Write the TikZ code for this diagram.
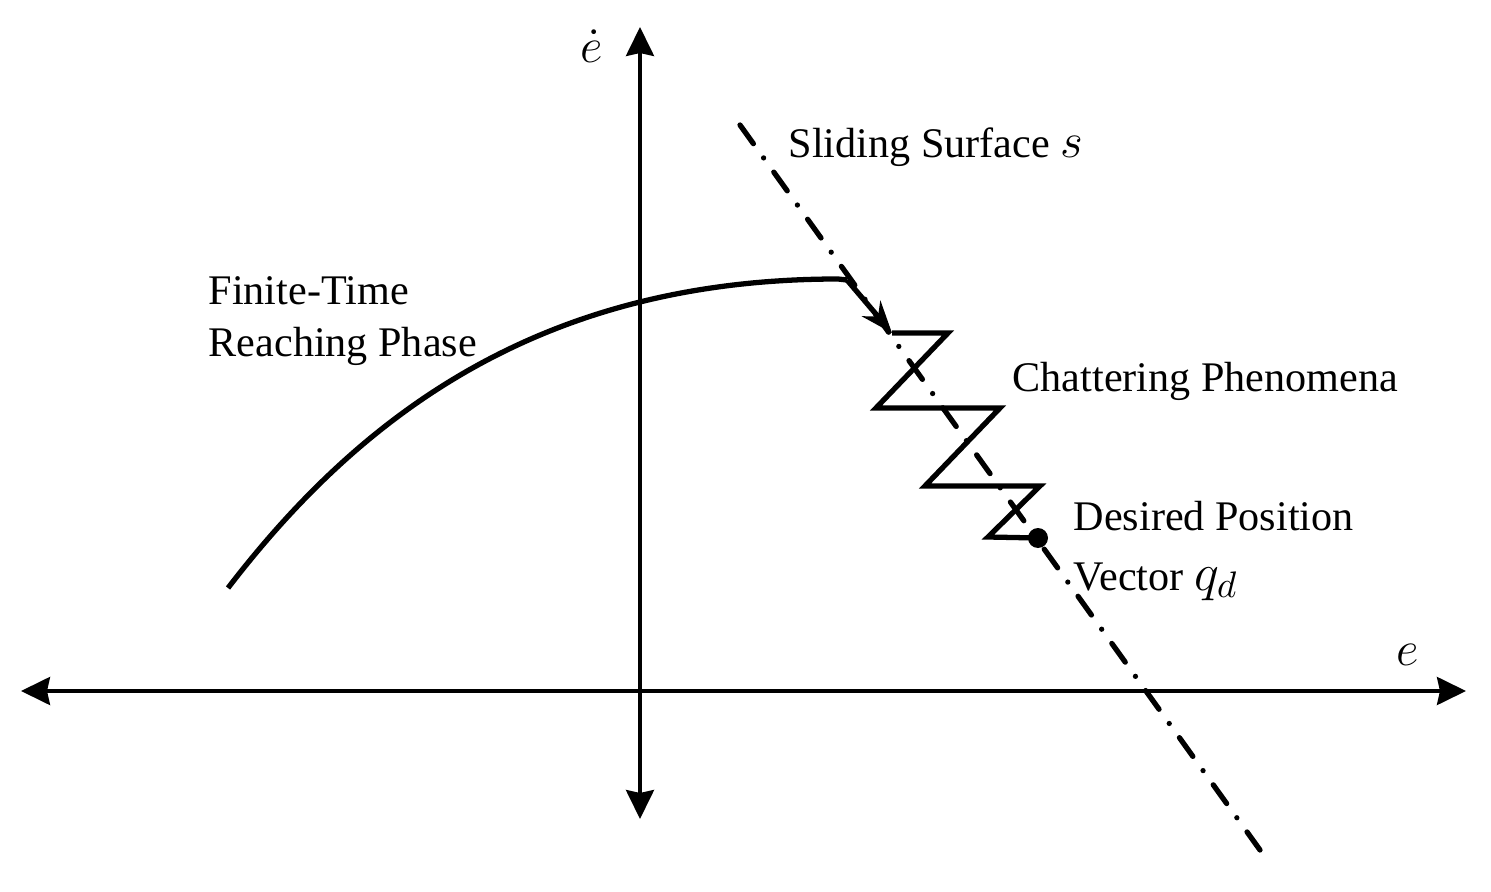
\documentclass[tikz,border=0pt]{standalone}
\usepackage{fix-cm}
\usepackage{fontspec}
\setmainfont{Liberation Serif}
\usetikzlibrary{arrows.meta,positioning,calc}

\begin{document}
\begin{tikzpicture}[>={Stealth[length=0.29cm,width=0.28cm,inset=0.03cm]},font=\fontsize{12}{14.8}\selectfont]
        \tikzstyle{axis}=[line width=1pt,<->]
        \tikzstyle{traj}=[line width=1.5pt,line join=miter]
        \tikzstyle{surface}=[line width=1.5pt,line cap=round,dash pattern=on 0.23cm off 0.175cm on 0cm off 0.175cm]
        \tikzstyle{txt}=[inner sep=0pt,anchor=west,align=left]
        \tikzstyle{mathtxt}=[inner sep=0pt,font=\fontsize{14}{16}\selectfont]
        \useasboundingbox (0,0) rectangle (14.91,8.91);
        \coordinate (xl) at (0.21,2.0);
        \coordinate (xr) at (14.66,2.0);
        \coordinate (yb) at (6.40,0.72);
        \coordinate (yt) at (6.40,8.64);
        \coordinate (s1) at (7.40,7.66);
        \coordinate (s2) at (12.60,0.41);
        \coordinate (start) at (2.28,3.03);
        \coordinate (top) at (8.47,6.11);
        \coordinate (z0) at (8.92,5.58);
        \draw[surface] (s1) -- (s2);
        \draw[axis] (xl) -- (xr);
        \draw[axis] (yb) -- (yt);
        \node[mathtxt] (edot) at (5.92,8.45) {$\dot{e}$};
        \node[mathtxt] (elab) at (14.08,2.36) {$e$};
        % reaching phase, then chattering about s
        \draw[traj] (start) .. controls (3.6,4.75) and (5.4,6.12) .. (8.38,6.12) -- (top);
        \draw[traj,-{Stealth[length=0.32cm,width=0.24cm]}] (top) -- (z0);
        \node[circle,fill,inner sep=0pt,minimum size=0.2cm] (qd) at (10.38,3.53) {};
        \draw[traj] (z0) -- (9.48,5.58) -- (8.76,4.83) -- (10.00,4.83) -- (9.25,4.05) -- (10.40,4.05) -- (9.88,3.54) -- (qd.center);
        \node[txt] (surf) at (7.88,7.44) {Sliding Surface {\fontsize{14}{16}\selectfont$s$}};
        \node[txt] (phase) at (2.08,5.70) {Finite-Time\\Reaching Phase};
        \node[txt] (chat) at (10.12,5.10) {Chattering Phenomena};
        \node[txt] (goal) at (10.73,3.40) {Desired Position\\[2pt]Vector {\fontsize{15}{18}\selectfont$q_d$}};
\end{tikzpicture}
\end{document}
